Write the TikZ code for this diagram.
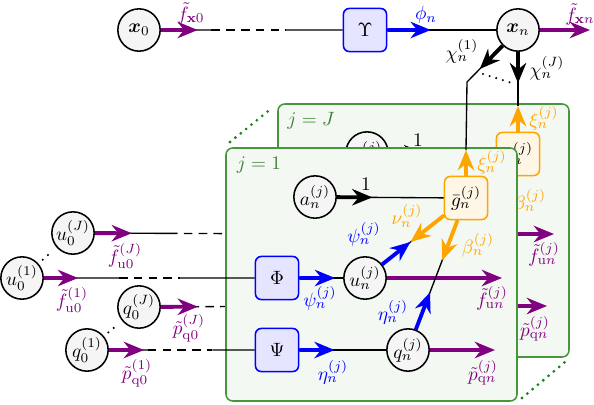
\documentclass[tikz,border=0pt]{standalone}
\usepackage{amssymb}
\usepackage{amsmath}
\usepackage{tikz}
\usetikzlibrary{arrows.meta, calc}
\definecolor{msgpurple}{RGB}{128,0,128}
\definecolor{msgorange}{RGB}{255,165,0}
\definecolor{plategreen}{RGB}{70,150,60}
\definecolor{dotgreen}{RGB}{30,130,30}
\definecolor{platefill}{RGB}{243,248,242}

% one plate of the factor graph: #1 = value of j, #2 = suffix of node names
\newcommand{\drawplate}[2]{%
  \draw[plate] (226,148) rectangle (517,401);
  \node[platelabel] (lab#2) at (259,165) {$j = #1$};
  \node[var] (a#2) at (315,197) {$a_n^{(j)}$};
  \node[gbox] (g#2) at (466,198) {$\bar{g}_n^{(j)}$};
  \node[fbox] (Phi#2) at (277,278) {$\Phi$};
  \node[fbox] (Psi#2) at (277,350) {$\Psi$};
  \node[var] (u#2) at (365,278) {$u_n^{(j)}$};
  \node[var] (q#2) at (408,350) {$q_n^{(j)}$};
  \coordinate (xi#2) at (466,150);
  \coordinate (uout#2) at (502,278);
  \coordinate (qout#2) at (495,350);
  \draw[link] (a#2) -- (g#2);
  \draw[link] (Phi#2) -- (u#2);
  \draw[link] (Psi#2) -- (q#2);
  \draw[link] (g#2) -- (u#2);
  \draw[msg, black] (a#2) -- ($(a#2)!0.38!(g#2)$);
  \draw[msg, blue] (Phi#2) -- ($(Phi#2)!0.66!(u#2)$);
  \draw[msg, blue] (Psi#2) -- ($(Psi#2)!0.44!(q#2)$);
  \draw[msg, msgpurple] (u#2) -- (uout#2);
  \draw[msg, msgpurple] (q#2) -- (qout#2);
  \draw[link] (g#2) -- (q#2);
  \draw[msg, msgorange] (g#2) -- (xi#2);
  \draw[msg, msgorange] (g#2) -- ($(g#2)!0.55!(u#2)$);
  \draw[msg, blue] (u#2) -- ($(g#2)!0.55!(u#2)$);
  \draw[msg, msgorange] (g#2) -- ($(g#2)!0.41!(q#2)$);
  \draw[msg, blue] (q#2) -- ($(g#2)!0.62!(q#2)$);
  \node (lone#2) at (366,184) {$1$};
  \node[text=blue] (lpsia#2) at (320,298) {$\psi_n^{(j)}$};
  \node[text=blue] (letaa#2) at (333,372) {$\eta_n^{(j)}$};
  \node[text=msgpurple] (lfu#2) at (492,298) {$\tilde{f}_{\mathrm{u}n}^{(j)}$};
  \node[text=msgpurple] (lpq#2) at (483,373) {$\tilde{p}_{\mathrm{q}n}^{(j)}$};
  \node[text=msgorange] (lxi#2) at (492,162) {$\xi_n^{(j)}$};
  \node[text=msgorange] (lnu#2) at (407,216) {$\nu_n^{(j)}$};
  \node[text=blue] (lpsib#2) at (364,234) {$\psi_n^{(j)}$};
  \node[text=msgorange] (lbeta#2) at (478,245) {$\beta_n^{(j)}$};
  \node[text=blue] (letab#2) at (393,312) {$\eta_n^{(j)}$};
}

\begin{document}
\begin{tikzpicture}[x=0.52pt, y=-0.52pt,
  var/.style={circle, draw, line width=0.8pt, fill=gray!8, minimum size=22pt, inner sep=0pt},
  fbox/.style={rectangle, rounded corners=3pt, draw=blue, line width=0.8pt, fill=blue!10, minimum size=22.4pt, inner sep=0pt},
  gbox/.style={rectangle, rounded corners=3pt, draw=msgorange, line width=0.8pt, fill=msgorange!10, minimum size=22.4pt, inner sep=0pt},
  plate/.style={draw=plategreen, line width=0.8pt, fill=platefill, rounded corners=3.5pt},
  platelabel/.style={text=plategreen!85!black},
  link/.style={line width=0.7pt},
  dashlink/.style={link, dash pattern=on 4.5pt off 3.2pt},
  msg/.style={line width=2pt, arrows={-Stealth[length=10.5pt, width=8.5pt, inset=3.4pt]}},
  dotline/.style={line width=1.6pt, line cap=round, dash pattern=on 0pt off 3.6pt}]
  \useasboundingbox (0,0) rectangle (594,404);

  % plate j = J, behind
  \begin{scope}[shift={(52,-44)}]
    \drawplate{J}{J}
  \end{scope}
  \draw[dotline, dotgreen] (230,142) -- (272,108);
  \draw[dotline, dotgreen] (522,398) -- (565,362);

  % initial nodes
  \node[var] (x0) at (139,30) {$\boldsymbol{x}_0$};
  \node[fbox] (Ups) at (365,30) {$\Upsilon$};
  \node[var] (xn) at (518,30) {$\boldsymbol{x}_n$};
  \coordinate (xout) at (590,30);
  \node[var] (u0J) at (73,233) {$u_0^{(J)}$};
  \node[var] (u01) at (22,278) {$u_0^{(1)}$};
  \node[var] (q0J) at (139,307) {$q_0^{(J)}$};
  \node[var] (q01) at (87,350) {$q_0^{(1)}$};

  % lines into plate J (hidden by plate 1)
  \draw[link] (u0J) -- ($(u0J)!0.375!(PhiJ)$);
  \draw[dashlink] ($(u0J)!0.375!(PhiJ)$) -- (PhiJ);
  \draw[dashlink] (q0J) -- (PsiJ);
  \draw[msg, msgpurple] (u0J) -- ($(u0J)!0.23!(PhiJ)$);
  \draw[msg, msgpurple] (q0J) -- ($(q0J)!0.31!(PsiJ)$);

  % plate j = 1, in front
  \drawplate{1}{1}

  % top row
  \draw[link] (x0) -- ($(x0)!0.32!(Ups)$);
  \draw[dashlink] ($(x0)!0.32!(Ups)$) -- ($(x0)!0.65!(Ups)$);
  \draw[link] ($(x0)!0.65!(Ups)$) -- (Ups);
  \draw[link] (Ups) -- (xn);
  \draw[msg, msgpurple] (x0) -- ($(x0)!0.26!(Ups)$);
  \draw[msg, blue] (Ups) -- ($(Ups)!0.43!(xn)$);
  \draw[msg, msgpurple] (xn) -- (xout);

  % from x_n down to the plates
  \coordinate (kink1) at (467,82);
  \draw[link] (xn) -- (kink1) -- (xi1);
  \draw[link] (xn) -- (xiJ);
  \draw[msg, black] (xn) -- ($(xn)!0.75!(kink1)$);
  \draw[msg, black] (xn) -- ($(xn)!0.7!(xiJ)$);
  \draw[dotline, black, line width=1.2pt] (483,74) -- (512,83);

  % initial states into plate 1
  \draw[link] (u01) -- ($(u01)!0.38!(Phi1)$);
  \draw[dashlink] ($(u01)!0.38!(Phi1)$) -- ($(u01)!0.62!(Phi1)$);
  \draw[link] ($(u01)!0.62!(Phi1)$) -- (Phi1);
  \draw[link] (q01) -- ($(q01)!0.32!(Psi1)$);
  \draw[dashlink] ($(q01)!0.32!(Psi1)$) -- ($(q01)!0.66!(Psi1)$);
  \draw[link] ($(q01)!0.66!(Psi1)$) -- (Psi1);
  \draw[msg, msgpurple] (u01) -- ($(u01)!0.22!(Phi1)$);
  \draw[msg, msgpurple] (q01) -- ($(q01)!0.3!(Psi1)$);
  \draw[dotline, black, line width=1.2pt, shorten <=3pt, shorten >=3pt] (u01) -- (u0J);
  \draw[dotline, black, line width=1.2pt, shorten <=3pt, shorten >=3pt] (q01) -- (q0J);

  % labels
  \node[text=msgpurple] (lfx0) at (191,13) {$\tilde{f}_{\mathbf{x}0}$};
  \node[text=blue] (lphi) at (426,15) {$\phi_n$};
  \node[text=msgpurple] (lfxn) at (580,14) {$\tilde{f}_{\mathbf{x}n}$};
  \node (lchi1) at (462,51) {$\chi_n^{(1)}$};
  \node (lchiJ) at (547,68) {$\chi_n^{(J)}$};
  \node[text=msgpurple] (lfu01) at (72,300) {$\tilde{f}_{\mathrm{u}0}^{(1)}$};
  \node[text=msgpurple] (lfu0J) at (125,256) {$\tilde{f}_{\mathrm{u}0}^{(J)}$};
  \node[text=msgpurple] (lpq0J) at (189,328) {$\tilde{p}_{\mathrm{q}0}^{(J)}$};
  \node[text=msgpurple] (lpq01) at (137,373) {$\tilde{p}_{\mathrm{q}0}^{(1)}$};
\end{tikzpicture}
\end{document}
